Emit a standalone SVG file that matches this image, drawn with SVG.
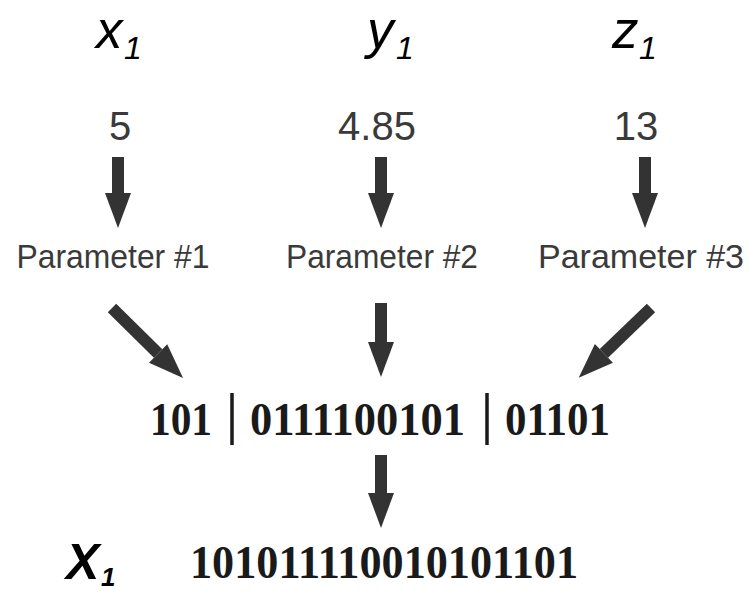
<svg xmlns="http://www.w3.org/2000/svg" width="749" height="592" viewBox="0 0 749 592">
<style>
.var{font-family:"Liberation Sans",Arial,sans-serif;font-style:italic;fill:#000}
.num{font-family:"Liberation Sans",Arial,sans-serif;font-size:40px;fill:#3a3a3a;text-anchor:middle}
.par{font-family:"Liberation Sans",Arial,sans-serif;font-size:34px;fill:#3a3a3a;text-anchor:middle}
.bin{font-family:"Liberation Serif","Times New Roman",serif;font-weight:bold;font-size:47px;fill:#1a1a1a}
.ar{stroke:#333;stroke-width:12;fill:none;marker-end:url(#head)}
.bar{stroke:#1a1a1a;stroke-width:3.5}
</style>
<defs>
<marker id="head" markerUnits="userSpaceOnUse" markerWidth="36" markerHeight="28" refX="0" refY="13" orient="auto" viewBox="0 0 36 26" overflow="visible">
<path d="M0,0 L35,13 L0,26 Z" fill="#333"/>
</marker>
</defs>
<g id="x1"><text class="var" x="96" y="48" font-size="53">x</text><text class="var" x="124" y="59" font-size="32">1</text></g>
<g id="y1"><text class="var" x="367" y="48" font-size="53">y</text><text class="var" x="396" y="59" font-size="32">1</text></g>
<g id="z1"><text class="var" x="612" y="48" font-size="53">z</text><text class="var" x="639" y="59" font-size="32">1</text></g>
<g id="v5"><text class="num" x="120" y="140">5</text></g>
<g id="v485"><text class="num" x="377" y="140">4.85</text></g>
<g id="v13"><text class="num" x="636" y="140">13</text></g>
<g id="p1"><text class="par" x="113" y="268" textLength="193" lengthAdjust="spacingAndGlyphs">Parameter #1</text></g>
<g id="p2"><text class="par" x="382" y="268" textLength="192" lengthAdjust="spacingAndGlyphs">Parameter #2</text></g>
<g id="p3"><text class="par" x="641" y="268" font-size="31">Parameter #3</text></g>
<g id="chrom"><text class="bin" x="150" y="435" textLength="62" lengthAdjust="spacingAndGlyphs">101</text><line class="bar" x1="232" y1="393" x2="232" y2="445"/><text class="bin" x="250" y="435" textLength="215" lengthAdjust="spacingAndGlyphs">0111100101</text><line class="bar" x1="487" y1="393" x2="487" y2="445"/><text class="bin" x="505" y="435" textLength="105" lengthAdjust="spacingAndGlyphs">01101</text></g>
<g id="X1"><text class="var" x="66" y="579" font-size="50" font-weight="bold">X</text><text class="var" x="101" y="586" font-size="26" font-weight="bold">1</text></g>
<g id="bits"><text class="bin" x="190" y="578" textLength="388" lengthAdjust="spacingAndGlyphs">101011110010101101</text></g>
<g id="connectors">
<line class="ar" x1="118" y1="157" x2="118" y2="193"/>
<line class="ar" x1="381" y1="157" x2="381" y2="193"/>
<line class="ar" x1="645" y1="157" x2="645" y2="193"/>
<line class="ar" x1="112" y1="308" x2="158.1" y2="353.4"/>
<line class="ar" x1="381" y1="303" x2="381" y2="342"/>
<line class="ar" x1="651" y1="308" x2="603.9" y2="353.4"/>
<line class="ar" x1="381" y1="455" x2="381" y2="493"/>
</g>
</svg>
